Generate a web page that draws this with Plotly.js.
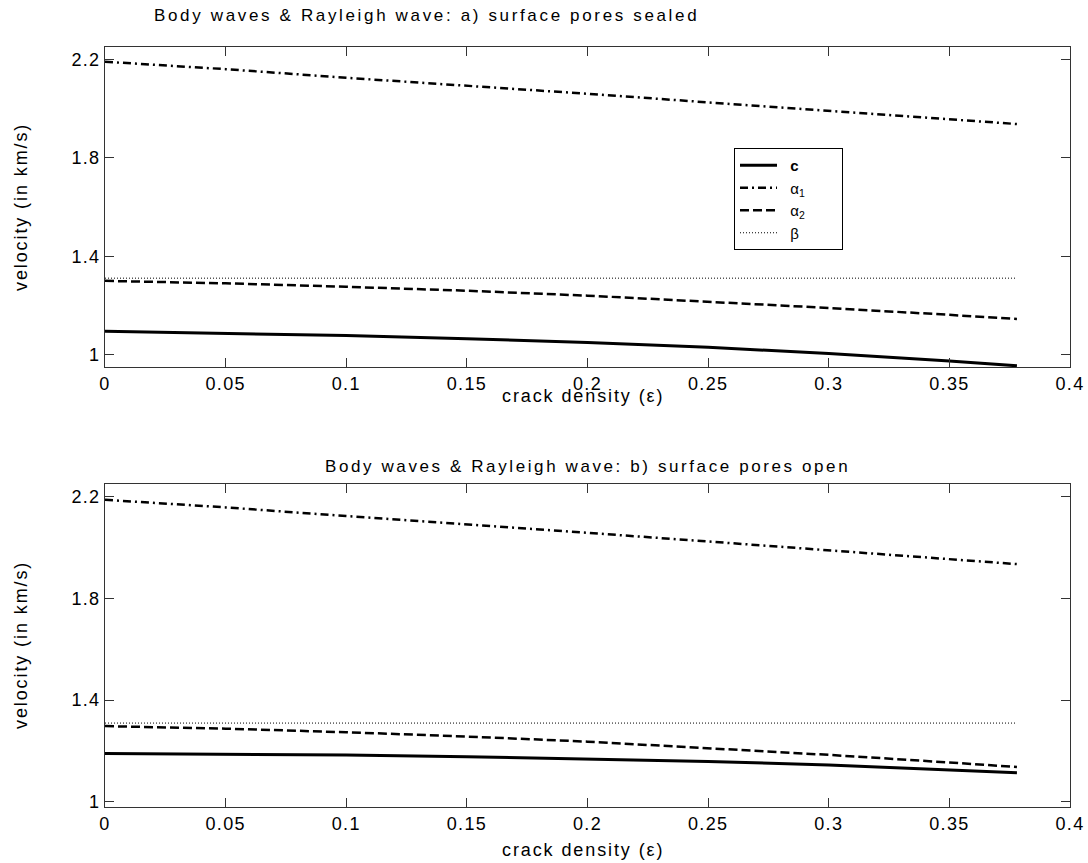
<!DOCTYPE html>
<html>
<head>
<meta charset="utf-8">
<script src="https://cdn.plot.ly/plotly-3.0.1.min.js"></script>
<style>
html,body{margin:0;padding:0;background:#fff;}
#chart{width:1088px;height:863px;}
.xtick text, .ytick text, .x2tick text, .y2tick text { letter-spacing: 1.3px; }
</style>
</head>
<body>
<div id="chart"></div>
<script>
// crack density values
const crackDensity = [0, 0.05, 0.1, 0.15, 0.2, 0.25, 0.3, 0.35, 0.378];

// a) surface pores sealed
const cSealed      = [1.095, 1.088, 1.078, 1.065, 1.050, 1.030, 1.005, 0.975, 0.955];
const alpha1Sealed = [2.190, 2.160, 2.125, 2.093, 2.060, 2.025, 1.990, 1.955, 1.937];
const alpha2Sealed = [1.300, 1.290, 1.276, 1.260, 1.240, 1.216, 1.190, 1.162, 1.145];
const betaSealed   = [1.311, 1.311, 1.311, 1.311, 1.311, 1.311, 1.311, 1.311, 1.311];

// b) surface pores open
const cOpen      = [1.190, 1.188, 1.184, 1.178, 1.170, 1.159, 1.145, 1.127, 1.115];
const alpha1Open = [2.188, 2.158, 2.124, 2.092, 2.058, 2.024, 1.989, 1.953, 1.935];
const alpha2Open = [1.298, 1.288, 1.274, 1.257, 1.237, 1.212, 1.185, 1.155, 1.137];
const betaOpen   = [1.310, 1.310, 1.310, 1.310, 1.310, 1.310, 1.310, 1.310, 1.310];

const seriesNames = ['<b>c</b>', 'α<sub>1</sub>', 'α<sub>2</sub>', 'β'];
const titles = ['Body waves & Rayleigh wave: a) surface pores sealed',
                'Body waves & Rayleigh wave: b) surface pores open'];
const xTitle = 'crack density (ε)';
const yTitle = 'velocity (in km/s)';

const styles = [
  {color:'#000', width:3, dash:'solid'},
  {color:'#000', width:2.5, dash:'8px,4px,2px,4px'},
  {color:'#000', width:2.5, dash:'9px,4px'},
  {color:'#000', width:1, dash:'1px,2px'}
];

const NB = '\u00a0';
function mk(y, i, xa, ya, show){
  const nm = NB + NB + seriesNames[i] + (i === 0 ? NB.repeat(9) : '');
  return {x: crackDensity, y: y, type:'scatter', mode:'lines', name: nm,
    line: styles[i], xaxis: xa, yaxis: ya, showlegend: show};
}

const data = [
  mk(cSealed,0,'x','y',true), mk(alpha1Sealed,1,'x','y',true),
  mk(alpha2Sealed,2,'x','y',true), mk(betaSealed,3,'x','y',true),
  mk(cOpen,0,'x2','y2',false), mk(alpha1Open,1,'x2','y2',false),
  mk(alpha2Open,2,'x2','y2',false), mk(betaOpen,3,'x2','y2',false)
];

const fam = 'Liberation Sans, Arial, sans-serif';
const sp = (t, s) => '<span style="letter-spacing:' + s + 'px">' + t + '</span>';

const xax = {range:[0,0.4], tick0:0, dtick:0.05, ticks:'inside', ticklen:9, tickcolor:'#333',
  showline:true, linecolor:'#333', linewidth:1, mirror:'ticks', showgrid:false, zeroline:false,
  tickfont:{size:18, family:fam, color:'#000'}};
const yax = {tick0:1, dtick:0.4, ticks:'inside', ticklen:9, tickcolor:'#333',
  showline:true, linecolor:'#333', linewidth:1, mirror:'ticks', showgrid:false, zeroline:false,
  tickfont:{size:18, family:fam, color:'#000'}};

const ann = (text, px, py, size, extra) => Object.assign({text:text, xref:'paper', yref:'paper',
  x:(px-105)/965, y:(863-56-py)/760, xanchor:'center', yanchor:'middle', showarrow:false,
  font:{size:size, family:fam, color:'#000'}}, extra || {});

const layout = {
  width:1088, height:863,
  margin:{l:105, r:18, t:47, b:56},
  paper_bgcolor:'#fff', plot_bgcolor:'#fff',
  font: {family:fam, color:'#000'},
  showlegend:true,
  legend:{x:(734-105)/965, y:(863-56-148)/760, xanchor:'left', yanchor:'top', bgcolor:'#fff',
    bordercolor:'#000', borderwidth:1, font:{size:15, family:fam, color:'#000'},
    itemwidth:37, tracegroupgap:0},
  xaxis: Object.assign({}, xax, {domain:[0,1], anchor:'y'}),
  yaxis: Object.assign({}, yax, {domain:[0.5789,1], range:[0.95,2.25], anchor:'x'}),
  xaxis2: Object.assign({}, xax, {domain:[0,1], anchor:'y2'}),
  yaxis2: Object.assign({}, yax, {domain:[0,0.425], range:[0.98,2.25], anchor:'x2'}),
  annotations:[
    ann(sp(titles[0], 2.65), 152, 15, 17, {xanchor:'left'}),
    ann(sp(titles[1], 2.6), 323, 467, 17, {xanchor:'left'}),
    ann(sp(xTitle, 1.9), 583, 396, 18),
    ann(sp(xTitle, 1.9), 583, 850, 18),
    ann(sp(yTitle, 1.9), 21, 207, 18, {textangle:-90}),
    ann(sp(yTitle, 1.9), 21, 645, 18, {textangle:-90})
  ]
};

Plotly.newPlot('chart', data, layout, {staticPlot:true, displayModeBar:false});
</script>
</body>
</html>
